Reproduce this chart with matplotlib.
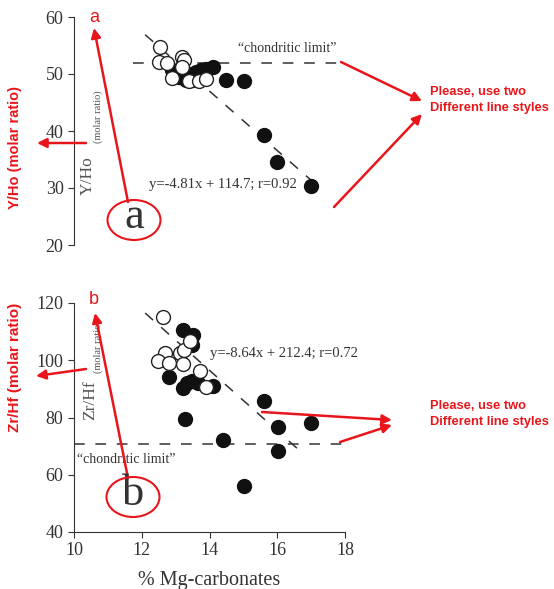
import matplotlib.pyplot as plt
from matplotlib.patches import Ellipse, FancyArrowPatch

plt.rcParams['font.family'] = ['Liberation Serif', 'DejaVu Serif']

# panel a: Y/Ho vs % Mg-carbonates
a_open_x = [12.53, 12.50, 12.76, 13.20, 13.24, 12.90, 13.40, 13.70, 13.90, 13.20]
a_open_y = [54.7, 52.1, 51.9, 53.0, 52.4, 49.3, 48.8, 48.8, 49.1, 51.2]
a_fill_x = [14.10, 13.90, 13.60, 13.30, 13.10, 12.90, 14.50, 15.03, 15.60, 16.00, 17.00, 13.50, 13.76, 13.30]
a_fill_y = [51.2, 50.9, 50.4, 50.2, 49.5, 50.7, 48.9, 48.8, 39.3, 34.6, 30.4, 49.0, 50.7, 48.9]
a_fit_x = [12.1, 17.05]
a_fit_y = [56.9, 31.1]
a_chond = 52.0

# panel b: Zr/Hf vs % Mg-carbonates
b_open_x = [12.62, 12.69, 12.47, 12.81, 13.13, 13.21, 13.26, 13.43, 13.72, 13.89]
b_open_y = [115.0, 102.5, 99.9, 99.2, 102.5, 98.7, 103.6, 106.6, 96.3, 90.8]
b_fill_x = [13.21, 13.52, 13.47, 12.79, 13.21, 13.47, 13.67, 14.11, 13.28, 14.41, 15.03, 15.61, 16.01, 16.01, 16.99, 13.33]
b_fill_y = [110.7, 108.9, 105.4, 94.1, 90.2, 92.6, 92.0, 91.0, 79.4, 72.1, 56.0, 85.9, 76.6, 68.3, 78.0, 92.0]
b_fit_x = [12.1, 16.75]
b_fit_y = [116.5, 67.5]
b_chond = 70.7

xticks = [10, 12, 14, 16, 18]
a_yticks = [20, 30, 40, 50, 60]
b_yticks = [40, 60, 80, 100, 120]

W, H = 554, 589
gray = '#333333'
red = '#e8161b'
sans = ['Liberation Sans', 'DejaVu Sans']

fig = plt.figure(figsize=(W / 100, H / 100), dpi=100)
ax1 = fig.add_axes([74 / W, 1 - 245 / H, (345 - 74) / W, 228 / H])
ax2 = fig.add_axes([74 / W, 1 - 532 / H, (345 - 74) / W, 229 / H])


def fp(x, y):
    # pixel from top-left -> figure fraction
    return (x / W, 1 - y / H)


def style(ax, xt, yt, show_x):
    ax.set_xlim(10, 18)
    ax.set_xticks(xt)
    ax.set_yticks(yt)
    ax.set_ylim(yt[0], yt[-1])
    for s in ['top', 'right']:
        ax.spines[s].set_visible(False)
    ax.spines['left'].set_color(gray)
    ax.spines['bottom'].set_color(gray)
    ax.tick_params(colors=gray, labelsize=13, direction='out', length=4)
    if not show_x:
        ax.spines['bottom'].set_visible(False)
        ax.tick_params(axis='x', bottom=False, labelbottom=False)


style(ax1, xticks, a_yticks, False)
style(ax2, xticks, b_yticks, True)

dash = (0, (7, 7))
for ax, fx, fy, ch, x0 in [(ax1, a_fit_x, a_fit_y, a_chond, 11.75),
                           (ax2, b_fit_x, b_fit_y, b_chond, 10.0)]:
    ax.plot(fx, fy, color=gray, lw=1.1, linestyle=dash, zorder=1)
    ax.plot([x0, 17.9], [ch, ch], color=gray, lw=1.1, linestyle=dash, zorder=1)

ax1.scatter(a_fill_x, a_fill_y, s=100, c='#111111', zorder=3)
ax1.scatter(a_open_x, a_open_y, s=100, facecolors='white', edgecolors='#222222', linewidths=1, zorder=4)
ax2.scatter(b_fill_x, b_fill_y, s=100, c='#111111', zorder=3)
ax2.scatter(b_open_x, b_open_y, s=100, facecolors='white', edgecolors='#222222', linewidths=1, zorder=4)

ax1.text(16.3, 53.4, '\u201cchondritic limit\u201d', ha='center', va='bottom', fontsize=10, color=gray)
ax2.text(10.1, 65.5, '\u201cchondritic limit\u201d', ha='left', va='center', fontsize=10, color=gray)
ax1.text(12.2, 30.6, 'y=-4.81x + 114.7; r=0.92', ha='left', va='center', fontsize=10.5, color=gray)
ax2.text(14.0, 102.5, 'y=-8.64x + 212.4; r=0.72', ha='left', va='center', fontsize=10.5, color=gray)

# y labels sit inside the axes, with a small subscript
ax1.text(10.41, 28.8, 'Y/Ho', rotation=90, ha='center', va='bottom', fontsize=12.5, color='#555555')
ax1.text(10.70, 37.9, '(molar ratio)', rotation=90, ha='center', va='bottom', fontsize=7.5, color='#555555')
ax2.text(10.47, 79.0, 'Zr/Hf', rotation=90, ha='center', va='bottom', fontsize=12.5, color='#555555')
ax2.text(10.70, 95.4, '(molar ratio)', rotation=90, ha='center', va='bottom', fontsize=7.5, color='#555555')

ax2.set_xlabel('% Mg-carbonates', fontsize=14.5, color=gray, labelpad=8)

# red annotations
arrow = dict(arrowstyle='-|>', color=red, lw=1.8, mutation_scale=14, shrinkA=0, shrinkB=0)
for lab, (lx, ly), (cx, cy), tail, head, larrow, ltext, ly_c, lsize, rarrows, ty in [
        ('a', (94, 18), (134, 220), (128, 202), (94, 28), ((86, 143), (37, 143)),
         'Y/Ho (molar ratio)', 148, 10.5,
         [((341, 62), (422, 101)), ((334, 207), (422, 114))], 100),
        ('b', (94, 300), (133, 497), (128, 478), (95, 313), ((86, 369), (36, 376)),
         'Zr/Hf (molar ratio)', 367, 11,
         [((262, 412), (392, 420)), ((340, 442), (392, 425))], 414)]:
    fig.text(*fp(lx, ly), lab, color=red, fontsize=13, ha='center', va='center', family=sans)
    fig.patches.append(Ellipse(fp(cx, cy), 53 / W, 40 / H, transform=fig.transFigure,
                               fill=False, edgecolor=red, lw=1.5, zorder=5))
    fig.text(*fp(cx, cy - 3), lab, color='#333333', fontsize=32, ha='center', va='center')
    fig.add_artist(FancyArrowPatch(fp(*tail), fp(*head), transform=fig.transFigure, **arrow))
    fig.add_artist(FancyArrowPatch(fp(*larrow[0]), fp(*larrow[1]), transform=fig.transFigure, **arrow))
    fig.text(*fp(15, ly_c), ltext, rotation=90, color=red, fontsize=lsize, fontweight='bold',
             ha='center', va='center', family=sans)
    for s, e in rarrows:
        fig.add_artist(FancyArrowPatch(fp(*s), fp(*e), transform=fig.transFigure, **arrow))
    fig.text(*fp(430, ty), 'Please, use two\nDifferent line styles', color=red, fontsize=9.3,
             fontweight='bold', ha='left', va='center', linespacing=1.45, family=sans)

plt.savefig('out.png', dpi=100)
